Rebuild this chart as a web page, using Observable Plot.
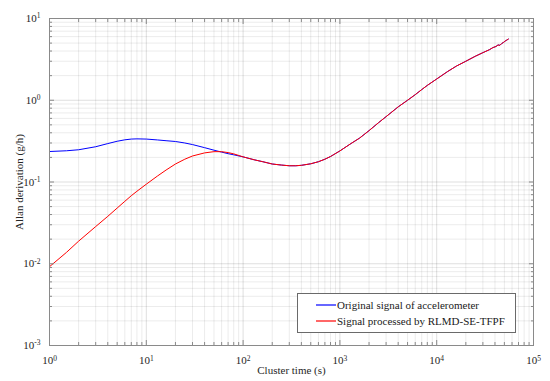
<!DOCTYPE html>
<html>
<head>
<meta charset="utf-8">
<script src="https://cdn.jsdelivr.net/npm/d3@7"></script>
<script src="https://cdn.jsdelivr.net/npm/@observablehq/plot@0.6"></script>
<style>
  html, body { margin: 0; padding: 0; background: #fff; }
  #wrap { position: relative; width: 550px; height: 381px; font-family: "Liberation Serif", "Times New Roman", serif; }
  #legend { position: absolute; left: 297px; top: 293px; width: 217px; height: 38px; border: 1px solid #6a6a6a; background: #fff; font-size: 11px; color: #1a1a1a; }
  .row { position: absolute; left: 0; height: 14px; display: flex; align-items: center; white-space: nowrap; }
  .row svg { margin-left: 18px; margin-right: 1px; }
</style>
</head>
<body>
<div id="wrap">
  <div id="chart"></div>
  <div id="legend">
    <div class="row" style="top:4px"><svg width="20" height="4"><line x1="0" y1="2" x2="20" y2="2" stroke="#0000ff" stroke-width="1.2"/></svg><span>Original signal of accelerometer</span></div>
    <div class="row" style="top:20px"><svg width="20" height="4"><line x1="0" y1="2" x2="20" y2="2" stroke="#ff0000" stroke-width="1.2"/></svg><span>Signal processed by RLMD-SE-TFPF</span></div>
  </div>
</div>
<script>
// Cluster times where the two curves differ (s)
const headTau = [1, 1.5, 2, 3, 4, 5, 6, 7, 8, 10, 13, 16, 20, 25, 30, 40, 50, 60, 70, 80];
// Original signal (blue) on headTau
const blueHead = [0.236, 0.241, 0.248, 0.27, 0.295, 0.315, 0.328, 0.335, 0.337, 0.335, 0.327, 0.32, 0.313, 0.3, 0.287, 0.263, 0.245, 0.232, 0.222, 0.215];
// Processed signal (red) on headTau
const redHead = [0.0092, 0.0138, 0.0189, 0.0285, 0.038, 0.048, 0.058, 0.068, 0.077, 0.094, 0.118, 0.14, 0.166, 0.19, 0.208, 0.227, 0.235, 0.235, 0.229, 0.221];
// Cluster times where the curves coincide (s)
const tailTau = [100, 130, 160, 200, 250, 300, 350, 400, 500, 600, 700, 800, 1000, 1300, 1600, 2000, 2500, 3000, 4000, 5000, 6000, 7000, 8000, 10000, 13000, 16000, 20000, 25000, 30000, 35000, 38000, 41000, 43000, 45000, 47000, 49000, 51000, 53000, 55000];
// Allan deviation shared by both curves on tailTau
const tailVal = [0.203, 0.187, 0.177, 0.166, 0.161, 0.158, 0.158, 0.16, 0.167, 0.177, 0.19, 0.205, 0.24, 0.295, 0.345, 0.425, 0.53, 0.63, 0.83, 1.0, 1.17, 1.35, 1.52, 1.82, 2.25, 2.62, 3.0, 3.45, 3.82, 4.15, 4.4, 4.55, 4.75, 4.7, 4.95, 5.1, 5.3, 5.45, 5.6];

const xMajor = [1, 10, 100, 1000, 10000, 100000];
const yMajor = [0.001, 0.01, 0.1, 1, 10];
const xMinor = [];
for (let d = 1; d < 1e5; d *= 10) for (let m = 2; m <= 9; m++) xMinor.push(d * m);
const yMinor = [];
for (let d = 0.001; d < 10; d *= 10) for (let m = 2; m <= 9; m++) yMinor.push(+(d * m).toPrecision(3));

const blue = headTau.map((t, i) => ({t, v: blueHead[i]})).concat(tailTau.map((t, i) => ({t, v: tailVal[i]})));
const red = headTau.map((t, i) => ({t, v: redHead[i]})).concat(tailTau.map((t, i) => ({t, v: tailVal[i]})));

const expFmt = d => String(Math.round(Math.log10(d)));
const blank = () => "";

const chart = Plot.plot({
  width: 550,
  height: 381,
  marginLeft: 49,
  marginRight: 17,
  marginTop: 18,
  marginBottom: 36,
  x: {type: "log", domain: [1, 1e5]},
  y: {type: "log", domain: [1e-3, 10]},
  style: {fontFamily: "Liberation Serif, Times New Roman, serif", fontSize: "11px", color: "#262626", background: "#fff"},
  marks: [
    Plot.gridX(xMinor, {stroke: "#000", strokeOpacity: 0.08}),
    Plot.gridY(yMinor, {stroke: "#000", strokeOpacity: 0.08}),
    Plot.gridX(xMajor, {stroke: "#000", strokeOpacity: 0.13}),
    Plot.gridY(yMajor, {stroke: "#000", strokeOpacity: 0.13}),
    Plot.line(blue, {x: "t", y: "v", stroke: "#0000ff", strokeWidth: 1}),
    Plot.line(red, {x: "t", y: "v", stroke: "#ff0000", strokeWidth: 1}),
    Plot.frame({stroke: "#8a8a8a"}),
    // inward ticks on all four sides
    Plot.axisX(xMajor, {anchor: "bottom", tickSize: -5, tickFormat: blank, label: null, stroke: "#8a8a8a"}),
    Plot.axisX(xMinor, {anchor: "bottom", tickSize: -3, tickFormat: blank, label: null, stroke: "#8a8a8a"}),
    Plot.axisX(xMajor, {anchor: "top", tickSize: -5, tickFormat: blank, label: null, stroke: "#8a8a8a"}),
    Plot.axisX(xMinor, {anchor: "top", tickSize: -3, tickFormat: blank, label: null, stroke: "#8a8a8a"}),
    Plot.axisY(yMajor, {anchor: "left", tickSize: -5, tickFormat: blank, label: null, stroke: "#8a8a8a"}),
    Plot.axisY(yMinor, {anchor: "left", tickSize: -3, tickFormat: blank, label: null, stroke: "#8a8a8a"}),
    Plot.axisY(yMajor, {anchor: "right", tickSize: -5, tickFormat: blank, label: null, stroke: "#8a8a8a"}),
    Plot.axisY(yMinor, {anchor: "right", tickSize: -3, tickFormat: blank, label: null, stroke: "#8a8a8a"}),
    // labels
    Plot.axisX(xMajor, {anchor: "bottom", tickSize: 0, tickPadding: 11, tickFormat: expFmt, label: "Cluster time (s)", labelAnchor: "center", labelOffset: 28, labelArrow: false}),
    Plot.axisY(yMajor, {anchor: "left", tickSize: 0, tickPadding: 9, tickFormat: expFmt, label: "Allan derivation (g/h)", labelAnchor: "center", labelOffset: 34, labelArrow: false})
  ]
});
document.getElementById("chart").appendChild(chart);

// turn exponent labels into 10 with a superscript
d3.select(chart).selectAll('g[aria-label$="tick label"] text').each(function () {
  const s = this.textContent;
  if (!s) return;
  const el = d3.select(this);
  el.text("");
  el.append("tspan").text("10");
  el.append("tspan").attr("dy", "-0.5em").attr("font-size", "7.5px").text(s);
});
</script>
</body>
</html>
